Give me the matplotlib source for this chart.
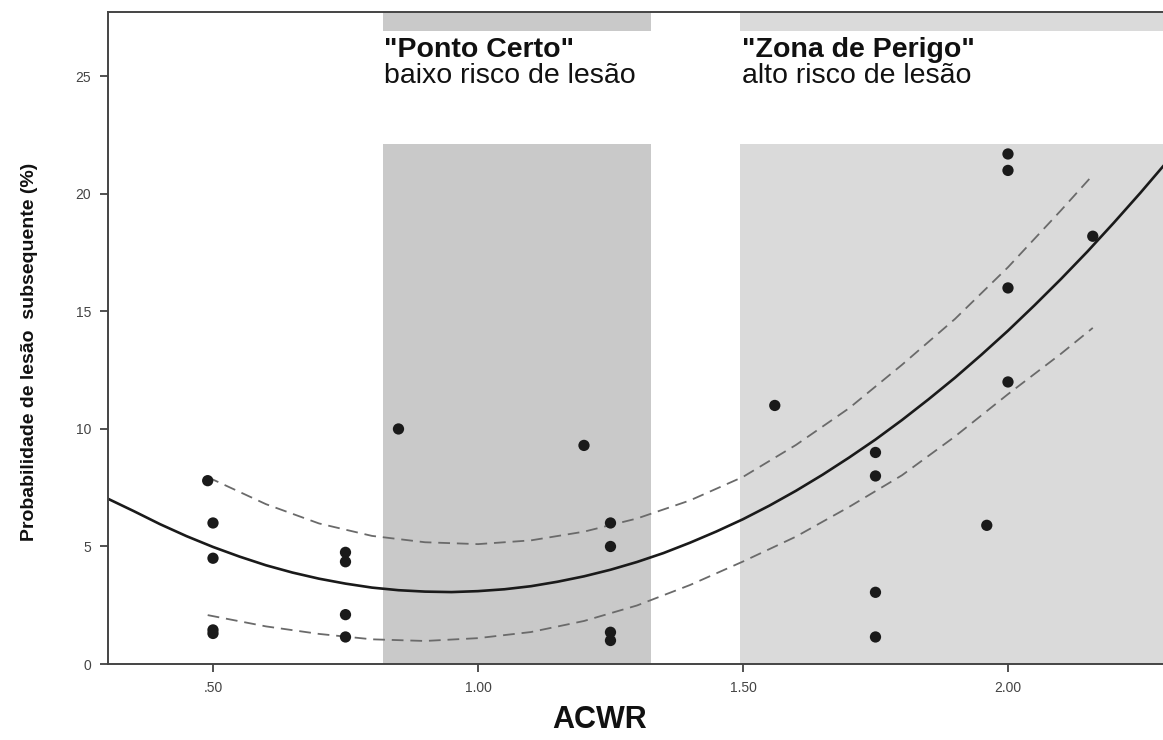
import matplotlib
matplotlib.use("Agg")
import matplotlib.pyplot as plt
from matplotlib.patches import Rectangle

# ---- data ----
acwr = [0.49, 0.50, 0.50, 0.50, 0.50, 0.75, 0.75, 0.75, 0.75, 0.85, 1.20,
        1.25, 1.25, 1.25, 1.25, 1.56, 1.75, 1.75, 1.75, 1.75, 1.96,
        2.00, 2.00, 2.00, 2.00, 2.16]
prob = [7.8, 6.0, 4.5, 1.45, 1.3, 4.75, 4.35, 2.1, 1.15, 10.0, 9.3,
        6.0, 5.0, 1.35, 1.0, 11.0, 9.0, 8.0, 3.05, 1.15, 5.9,
        21.7, 21.0, 16.0, 12.0, 18.2]

fit_x = [0.30, 0.35, 0.40, 0.45, 0.50, 0.55, 0.60, 0.65, 0.70, 0.75, 0.80,
         0.85, 0.90, 0.95, 1.00, 1.05, 1.10, 1.15, 1.20, 1.25, 1.30, 1.35,
         1.40, 1.45, 1.50, 1.55, 1.60, 1.65, 1.70, 1.75, 1.80, 1.85, 1.90,
         1.95, 2.00, 2.05, 2.10, 2.15, 2.20, 2.25, 2.30]
fit_y = [7.05, 6.51, 5.95, 5.44, 4.98, 4.57, 4.20, 3.89, 3.63, 3.42, 3.25,
         3.14, 3.08, 3.06, 3.10, 3.18, 3.31, 3.50, 3.73, 4.01, 4.34, 4.72,
         5.16, 5.64, 6.16, 6.74, 7.37, 8.05, 8.78, 9.55, 10.38, 11.26, 12.18,
         13.16, 14.18, 15.26, 16.38, 17.55, 18.78, 20.05, 21.37]

ci_x = [0.49, 0.60, 0.70, 0.80, 0.90, 1.00, 1.10, 1.20, 1.30, 1.40, 1.50,
        1.60, 1.70, 1.80, 1.90, 2.00, 2.10, 2.16]
ci_upper = [7.95, 6.80, 5.98, 5.45, 5.18, 5.10, 5.26, 5.63, 6.19, 6.96, 7.96,
            9.32, 10.88, 12.73, 14.68, 16.88, 19.30, 20.80]
ci_lower = [2.08, 1.60, 1.28, 1.05, 0.98, 1.10, 1.36, 1.83, 2.49, 3.36, 4.36,
            5.42, 6.68, 8.03, 9.68, 11.48, 13.20, 14.30]

zones = [(0.820, 1.326), (1.495, 2.40)]
zone_colors = ["#c9c9c9", "#dadada"]
zone_titles = ['"Ponto Certo"', '"Zona de Perigo"']
zone_subtitles = ["baixo risco de lesão", "alto risco de lesão"]

xticks = [0.5, 1.0, 1.5, 2.0]
xtick_labels = [".50", "1.00", "1.50", "2.00"]
yticks = [0, 5, 10, 15, 20, 25]
ytick_labels = ["0", "5", "10", "15", "20", "25"]

plt.rcParams["font.family"] = ["Liberation Sans", "DejaVu Sans"]

fig = plt.figure(figsize=(11.63, 7.40), dpi=100)
ax = fig.add_axes([108 / 1163, 1 - 664 / 740, 1 - 108 / 1163, (664 - 12) / 740])

xmin, xmax = 0.3019, 2.2925
ymin, ymax = 0.0, 27.74
ax.set_xlim(xmin, xmax)
ax.set_ylim(ymin, ymax)

box_top, box_bottom = 26.94, 22.13
for (x0, x1), c, t, s in zip(zones, zone_colors, zone_titles, zone_subtitles):
    ax.axvspan(x0, x1, color=c, lw=0, zorder=0)
    ax.add_patch(Rectangle((x0, box_bottom), x1 - x0, box_top - box_bottom,
                           facecolor="white", edgecolor="none", zorder=0.5))
    ax.text(x0 + 0.003, 25.83, t, fontsize=20.5, fontweight="bold",
            color="#111111", va="baseline", ha="left", zorder=3)
    ax.text(x0 + 0.003, 24.72, s, fontsize=20.5, color="#111111",
            va="baseline", ha="left", zorder=3)

ax.plot(fit_x, fit_y, color="#1a1a1a", lw=1.9, zorder=2)
ax.plot(ci_x, ci_upper, color="#6a6a6a", lw=1.3, ls=(0, (6.5, 3.8)), zorder=2)
ax.plot(ci_x, ci_lower, color="#6a6a6a", lw=1.3, ls=(0, (6.5, 3.8)), zorder=2)
ax.scatter(acwr, prob, s=66, color="#1a1a1a", edgecolors="none", zorder=4)

ax.set_xticks(xticks)
ax.set_xticklabels(xtick_labels)
ax.set_yticks(yticks)
ax.set_yticklabels(ytick_labels)
ax.tick_params(axis="both", direction="out", length=6, width=1.2,
               color="#333333", labelsize=10, labelcolor="#444444", pad=6)

for side in ["left", "bottom", "top"]:
    ax.spines[side].set_color("#444444")
    ax.spines[side].set_linewidth(1.4)
ax.spines["right"].set_visible(False)

fig.text(600 / 1163, 1 - 720 / 740, "ACWR", fontsize=22, fontweight="bold",
         ha="center", va="center", color="#111111")
fig.text(30 / 1163, 1 - 352 / 740, "Probabilidade de lesão  subsequente (%)",
         fontsize=14, fontweight="bold", rotation=90, ha="center", va="center",
         color="#111111")

fig.savefig("out.png", dpi=100)
